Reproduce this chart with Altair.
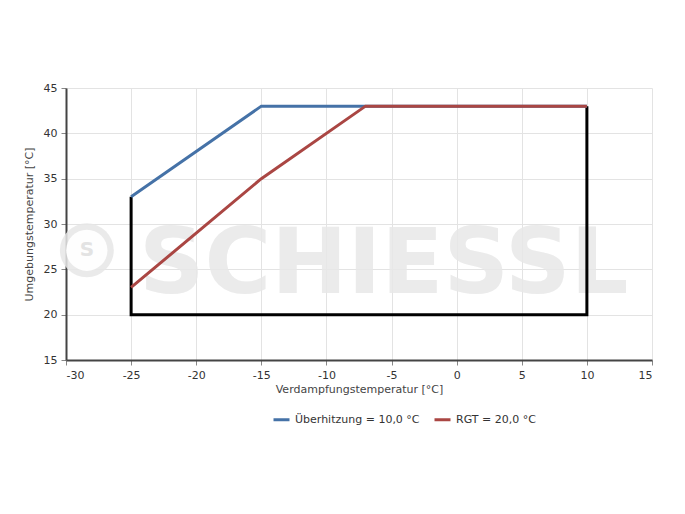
import altair as alt
import pandas as pd

# Series data
blue_x = [-25, -15, 10]
blue_y = [33, 43, 43]
red_x = [-25, -15, -7, 10]
red_y = [23, 35, 43, 43]
bound_x = [-25, -25, 10, 10]
bound_y = [33, 20, 20, 43]

series_names = ["Überhitzung = 10,0 °C", "RGT = 20,0 °C"]
series_colors = ["#4572A7", "#AA4643"]

x_ticks = [-30, -25, -20, -15, -10, -5, 0, 5, 10, 15]
y_ticks = [15, 20, 25, 30, 35, 40, 45]

FONT = "DejaVu Sans"

rows = []
for i, (x, y) in enumerate(zip(blue_x, blue_y)):
    rows.append({"x": x, "y": y, "s": series_names[0], "o": i})
for i, (x, y) in enumerate(zip(red_x, red_y)):
    rows.append({"x": x, "y": y, "s": series_names[1], "o": i})
lines_df = pd.DataFrame(rows)
bound_df = pd.DataFrame({"x": bound_x, "y": bound_y, "o": list(range(len(bound_x)))})

xs = alt.Scale(domain=[-30, 15], nice=False, zero=False)
ys = alt.Scale(domain=[15, 45], nice=False, zero=False)

common = dict(grid=True, gridColor="#e3e3e3", domainColor="#444444", domainWidth=2,
              tickColor="#888888", tickSize=5, labelFont=FONT, labelFontSize=11,
              labelColor="#333333", titleFont=FONT, titleFontSize=11,
              titleFontWeight="normal", titleColor="#444444", labelPadding=4,
              labelExpr="'' + datum.value")
x_axis = alt.Axis(values=x_ticks, title="Verdampfungstemperatur [°C]", titlePadding=3, **common)
y_axis = alt.Axis(values=y_ticks, title="Umgebungstemperatur [°C]", titlePadding=9, **common)

# Watermark
wm_df = pd.DataFrame({"x": [-5.6], "y": [25.4], "t": ["SCHIESSL"]})
logo_df = pd.DataFrame({"x": [-28.4], "y": [27.1], "t": ["S"]})

base_axes = alt.Chart(bound_df).mark_point(opacity=0).encode(
    x=alt.X("x:Q", scale=xs, axis=x_axis),
    y=alt.Y("y:Q", scale=ys, axis=y_axis),
)

watermark = alt.Chart(wm_df).mark_text(
    font=FONT, fontSize=91, fontWeight="bold", color="#e8e8e8", opacity=0.85,
    baseline="middle", align="center"
).encode(x=alt.X("x:Q", scale=xs), y=alt.Y("y:Q", scale=ys), text="t:N")

logo_circle = alt.Chart(logo_df).mark_point(
    shape="circle", filled=True, size=2900, color="#e6e6e6", opacity=0.85
).encode(x=alt.X("x:Q", scale=xs), y=alt.Y("y:Q", scale=ys))
logo_inner = alt.Chart(logo_df).mark_point(
    shape="circle", filled=True, size=1700, color="#ffffff", opacity=0.95
).encode(x=alt.X("x:Q", scale=xs), y=alt.Y("y:Q", scale=ys))
logo_text = alt.Chart(logo_df).mark_text(
    font=FONT, fontSize=20, fontWeight="bold", color="#e3e3e3", baseline="middle"
).encode(x=alt.X("x:Q", scale=xs), y=alt.Y("y:Q", scale=ys), text="t:N")

boundary = alt.Chart(bound_df).mark_line(color="#000000", strokeWidth=3).encode(
    x=alt.X("x:Q", scale=xs), y=alt.Y("y:Q", scale=ys), order="o:Q"
)

lines = alt.Chart(lines_df).mark_line(strokeWidth=3).encode(
    x=alt.X("x:Q", scale=xs),
    y=alt.Y("y:Q", scale=ys),
    color=alt.Color("s:N", scale=alt.Scale(domain=series_names, range=series_colors),
                    sort=series_names,
                    legend=alt.Legend(title=None, orient="none", legendX=206, legendY=322,
                                      direction="horizontal", symbolType="stroke",
                                      symbolStrokeWidth=3, symbolSize=256,
                                      labelFont=FONT, labelFontSize=11,
                                      labelColor="#333333", columnPadding=8,
                                      labelOffset=4)),
    order="o:Q",
)

chart = alt.layer(base_axes, logo_circle, logo_inner, logo_text, watermark, boundary, lines).properties(
    width=586, height=272,
    padding={"left": 58, "top": 80, "right": 25, "bottom": 140},
    autosize=alt.AutoSizeParams(type="none"),
).configure_view(stroke=None)

chart.save("out.html", embed_options={"renderer": "svg", "actions": False})
